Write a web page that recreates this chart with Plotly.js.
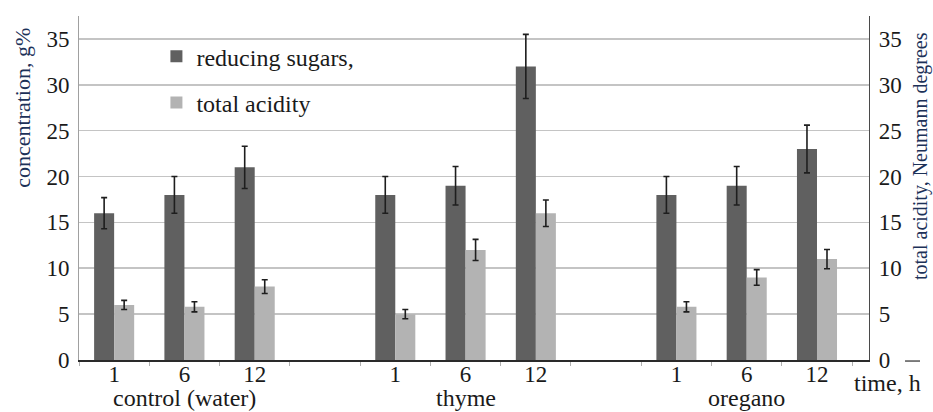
<!DOCTYPE html>
<html>
<head>
<meta charset="utf-8">
<script src="https://cdn.plot.ly/plotly-3.0.1.min.js"></script>
<style>html,body{margin:0;padding:0;background:#fff;}#chart{width:933px;height:412px;}</style>
</head>
<body>
<div id="chart"></div>
<script>
// ---- data ----
const groups = ["control (water)", "thyme", "oregano"];
const times = ["1", "6", "12"];
const sugars = [16, 18, 21, 18, 19, 32, 18, 19, 23];
const sugarsErr = [1.7, 2, 2.3, 2, 2.1, 3.5, 2, 2.1, 2.6];
const acidity = [6, 5.8, 8, 5, 12, 16, 5.8, 9, 11];
const acidityErr = [0.5, 0.55, 0.75, 0.5, 1.15, 1.45, 0.55, 0.85, 1.05];
const yTicks = [0, 5, 10, 15, 20, 25, 30, 35];

// slot positions: 3 bars per group, one empty slot between groups
const slotsPerGroup = times.length + 1;
const xPos = [], tickText = [];
groups.forEach((g, gi) => times.forEach((t, ti) => { xPos.push(gi * slotsPerGroup + ti); tickText.push(t); }));
const groupCenters = groups.map((g, gi) => gi * slotsPerGroup + (times.length - 1) / 2);

const FONT = 'Liberation Serif, Times New Roman, serif';
const TXT = '#1a1a1a';
const BW = 0.285;
const errStyle = {type: 'data', visible: true, color: '#1e1e1e', thickness: 1.6, width: 3};

const traces = [
  {type: 'bar', name: 'reducing sugars,', x: xPos, y: sugars, width: BW, offset: -BW,
   marker: {color: '#606060'}, error_y: Object.assign({array: sugarsErr}, errStyle),
   legendgroup: 'a', yaxis: 'y'},
  {type: 'bar', name: 'total acidity', x: xPos, y: acidity, width: BW, offset: 0,
   marker: {color: '#b3b3b3'}, error_y: Object.assign({array: acidityErr}, errStyle),
   legendgroup: 'b', yaxis: 'y2'}
];

const yRange = [0, 37.5];
const annotations = groups.map((g, gi) => ({
  x: groupCenters[gi], xref: 'x', xanchor: 'center', y: -0.067, yref: 'paper', yanchor: 'top',
  text: g, showarrow: false, font: {family: FONT, size: 24, color: TXT}
}));
annotations.push({x: 1.0235, xref: 'paper', xanchor: 'center', y: -0.068, yref: 'paper', yanchor: 'middle',
  text: 'time, h', showarrow: false, font: {family: FONT, size: 24, color: TXT}});
annotations.push({x: -0.0709, xref: 'paper', xanchor: 'center', y: 0.733, yref: 'paper', yanchor: 'middle',
  text: 'concentration, g%', textangle: -90, showarrow: false, font: {family: FONT, size: 22, color: '#1c3158'}});
annotations.push({x: 1.0646, xref: 'paper', xanchor: 'center', y: 0.593, yref: 'paper', yanchor: 'middle',
  text: 'total acidity, Neumann degrees', textangle: -90, showarrow: false, font: {family: FONT, size: 20, color: '#1c3158'}});

const layout = {
  width: 933, height: 412,
  margin: {l: 79, r: 64, t: 16, b: 52},
  paper_bgcolor: '#fff', plot_bgcolor: '#fff',
  font: {family: FONT, size: 23, color: TXT},
  showlegend: true,
  legend: {x: 0.098, y: 0.947, xanchor: 'left', yanchor: 'top', bgcolor: 'rgba(0,0,0,0)',
    font: {family: FONT, size: 24, color: TXT}, tracegroupgap: 12, traceorder: 'grouped'},
  xaxis: {range: [-0.5, 10.74], tickmode: 'array', tickvals: xPos, ticktext: tickText,
    ticks: '', showgrid: false, zeroline: false, showline: true, linecolor: '#2a2a2a', linewidth: 1.6,
    ticklabelstandoff: -7,
    tickfont: {family: FONT, size: 23, color: TXT},
    minor: {tickmode: 'linear', tick0: -0.5, dtick: 1, ticks: 'outside', ticklen: 4, tickcolor: '#b0b0b0', tickwidth: 1, showgrid: false}},
  yaxis: {range: yRange, tickmode: 'array', tickvals: yTicks, showgrid: true, gridcolor: '#c4c4c4', gridwidth: 1.6,
    zeroline: false, showline: true, linecolor: '#a0a0a0', linewidth: 1, ticks: '', ticklabelstandoff: 4,
    tickfont: {family: FONT, size: 23, color: TXT}},
  yaxis2: {range: yRange, overlaying: 'y', side: 'right', tickmode: 'array', tickvals: yTicks, showgrid: false,
    zeroline: false, showline: true, linecolor: '#4a4a4a', linewidth: 1.2, ticks: '', ticklabelstandoff: 4,
    tickfont: {family: FONT, size: 23, color: TXT}},
  annotations: annotations,
  shapes: [{type: 'line', xref: 'paper', yref: 'paper', x0: 1.0456, x1: 1.0646, y0: -0.003, y1: -0.003,
    line: {color: '#2a2a2a', width: 1.2}}]
};

Plotly.newPlot('chart', traces, layout, {displayModeBar: false, staticPlot: true});
</script>
</body>
</html>
